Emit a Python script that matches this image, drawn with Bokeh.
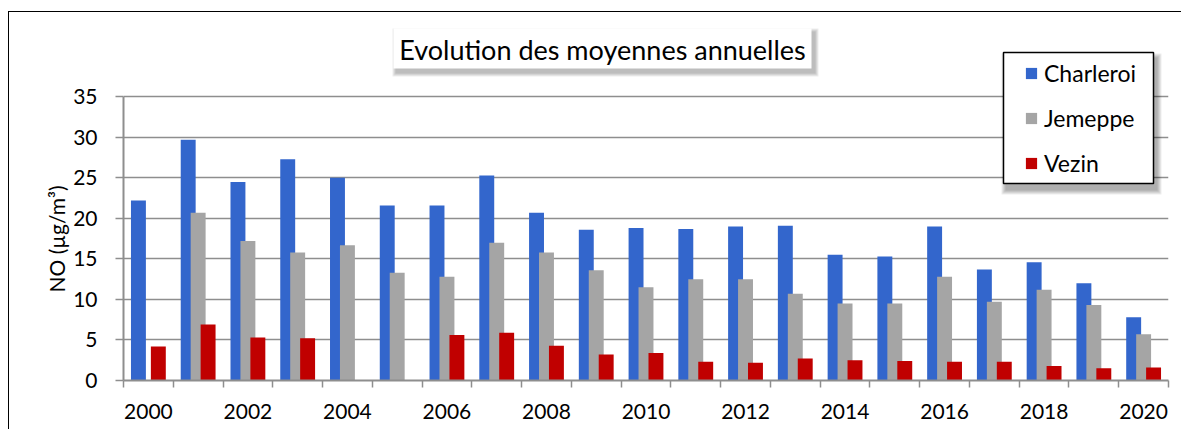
from bokeh.plotting import figure
from bokeh.models import (ColumnDataSource, Range1d, FixedTicker, BoxAnnotation, Label,
                          Legend, LegendItem, Title)
from bokeh.transform import dodge
from bokeh.embed import file_html
from bokeh.resources import INLINE

nan = float("nan")

years = list(range(2000, 2021))
charleroi = [22.2, 29.7, 24.5, 27.3, 25.0, 21.6, 21.6, 25.3, 20.7, 18.6, 18.8,
             18.7, 19.0, 19.1, 15.5, 15.3, 19.0, 13.7, 14.6, 12.0, 7.8]
jemeppe = [nan, 20.7, 17.2, 15.8, 16.7, 13.3, 12.8, 17.0, 15.8, 13.6, 11.5,
           12.5, 12.5, 10.7, 9.5, 9.5, 12.8, 9.7, 11.2, 9.3, 5.7]
vezin = [4.2, 6.9, 5.3, 5.2, nan, nan, 5.6, 5.9, 4.3, 3.2, 3.4,
         2.3, 2.2, 2.7, 2.5, 2.4, 2.3, 2.3, 1.8, 1.5, 1.6]
series_names = ["Charleroi", "Jemeppe", "Vezin"]
y_ticks = [0, 5, 10, 15, 20, 25, 30, 35]
x_label_years = list(range(2000, 2021, 2))
title_text = "Evolution des moyennes annuelles"
y_title = "NO (µg/m³)"

colors = ["#3366CC", "#A5A5A5", "#C00000"]
FONT = "Lato"

src = ColumnDataSource(dict(year=years, charleroi=charleroi, jemeppe=jemeppe, vezin=vezin))

# frame geometry (page px) used to place decorations
FR_L, FR_R = 123.0, 1168.0
FR_B = 380.0
PX_PER_Y = 283.7 / 35.0
PX_PER_X = (FR_R - FR_L) / 21.0
Y_END = 366.0 / PX_PER_Y

def dx(px):
    return 1999.5 + (px - FR_L) / PX_PER_X

def dy(py):
    return (FR_B - py) / PX_PER_Y

W = 1173
p = figure(width=W, height=418, output_backend="svg", toolbar_location=None,
           x_range=Range1d(1999.5, 2020.5), y_range=Range1d(0, Y_END),
           min_border_left=114, min_border_right=W - 1159, min_border_top=2, min_border_bottom=50)
p.margin = (11, 0, 0, 8)
p.styles = {"border-left": "1px solid #000000", "border-top": "1px solid #000000"}
p.outline_line_color = None
p.background_fill_color = "white"
p.border_fill_color = "white"

grid_col = "#8E8E8E"
# y axis
p.yaxis.ticker = FixedTicker(ticks=y_ticks)
p.yaxis.bounds = (0, 35)
p.yaxis.axis_line_color = grid_col
p.yaxis.axis_line_width = 2
p.yaxis.major_tick_line_color = grid_col
p.yaxis.major_tick_line_width = 1.5
p.yaxis.major_tick_out = 8
p.yaxis.major_tick_in = 0
p.yaxis.minor_tick_line_color = None
p.yaxis.major_label_standoff = 18
p.yaxis.major_label_text_font = FONT
p.yaxis.major_label_text_font_size = "21px"
p.yaxis.major_label_text_color = "#000000"

# y axis title, centred on the 0-35 span
ytitle = Title(text=y_title, align="left", offset=88, text_font=FONT, text_font_size="21px",
               text_font_style="normal", text_color="#000000", standoff=4)
p.add_layout(ytitle, "left")

# x axis
p.xaxis.ticker = FixedTicker(ticks=x_label_years, minor_ticks=[y - 0.5 for y in years] + [2020.5])
p.xaxis.axis_line_color = grid_col
p.xaxis.axis_line_width = 2
p.xaxis.major_tick_line_alpha = 0
p.xaxis.major_tick_out = 7
p.xaxis.major_tick_in = 0
p.xaxis.minor_tick_line_color = grid_col
p.xaxis.minor_tick_line_width = 1.5
p.xaxis.minor_tick_out = 7
p.xaxis.minor_tick_in = 0
p.xaxis.major_label_standoff = 16
p.xaxis.major_label_text_font = FONT
p.xaxis.major_label_text_font_size = "21px"
p.xaxis.major_label_text_color = "#000000"

p.xgrid.grid_line_color = None
p.ygrid.ticker = FixedTicker(ticks=y_ticks)
p.ygrid.grid_line_color = grid_col
p.ygrid.grid_line_width = 1.5

renderers = []
for field, off, col in zip(["charleroi", "jemeppe", "vezin"], [-0.2, 0.0, 0.2], colors):
    r = p.vbar(x=dodge("year", off), top=field, width=0.30, source=src,
               fill_color=col, line_color=None)
    renderers.append(r)

# shadow helper
def shadow(l, r, t, b, ox, oy, steps, alpha):
    for i in range(steps, 0, -1):
        e = i
        p.add_layout(BoxAnnotation(left=dx(l + ox - e), right=dx(r + ox + e),
                                   top=dy(t + oy - e), bottom=dy(b + oy + e),
                                   fill_color="#000000", fill_alpha=alpha,
                                   line_color=None, line_alpha=0))

# title box
shadow(393, 811, 28, 68, 3, 4, 4, 0.07)
p.add_layout(BoxAnnotation(left=dx(393), right=dx(811), top=dy(28), bottom=dy(68),
                           fill_color="white", fill_alpha=1.0, line_color=None, line_alpha=0))
p.add_layout(Label(x=dx(602), y=dy(49), text=title_text, text_align="center",
                   text_baseline="middle", text_font=FONT, text_font_size="27px",
                   text_color="#000000"))

# legend box
shadow(1003, 1153, 52, 183, 3, 6, 5, 0.07)
p.add_layout(BoxAnnotation(left=dx(1003), right=dx(1153), top=dy(52), bottom=dy(183),
                           fill_color="white", fill_alpha=1.0, line_color="#000000",
                           line_alpha=1.0, line_width=1.5))

legend = Legend(items=[LegendItem(label=n, renderers=[r]) for n, r in zip(series_names, renderers)],
                location=(1024 - FR_L, FR_B - 177), padding=0, spacing=17,
                glyph_width=14, glyph_height=14, label_height=26, label_standoff=6,
                label_text_font=FONT, label_text_font_size="23px", label_text_color="#000000",
                border_line_alpha=0, background_fill_alpha=0, margin=0)
p.add_layout(legend)

open("out.html", "w").write(file_html(p, INLINE))
